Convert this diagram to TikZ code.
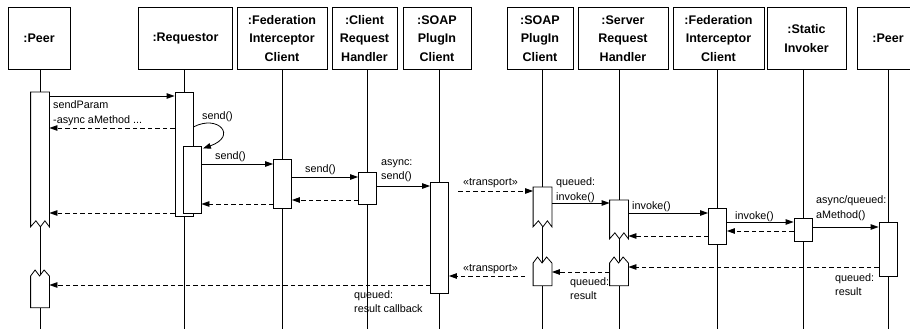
\documentclass[tikz,border=0pt]{standalone}
\usepackage{fontspec}
\setmainfont{Liberation Sans}
\usetikzlibrary{arrows.meta,calc,backgrounds}

\begin{document}
\begin{tikzpicture}[
    x=1pt, y=-1pt,
    obj/.style={draw, fill=white, line width=0.8pt, inner sep=0pt,
      minimum height=62pt, anchor=north, align=center,
      font=\fontsize{12.5}{18.5}\selectfont\bfseries},
    act/.style={draw, fill=white, line width=0.8pt, inner sep=0pt,
      minimum width=18pt, anchor=north},
    hold/.style={act, draw=none, fill=none},
    brk/.style={fill=white, line width=0.8pt},
    life/.style={line width=0.8pt},
    msg/.style={line width=0.8pt, -{Triangle[length=8pt,width=5.5pt]}},
    ret/.style={msg, dash pattern=on 4.5pt off 3pt},
    lbl/.style={inner sep=0pt, anchor=north west, align=left,
      font=\fontsize{10.8}{14.5}\selectfont,
      execute at begin node=\vphantom{(}},
  ]
  \useasboundingbox (0,0) rectangle (910,329);

  % objects
  \node[obj, minimum width=62pt] (peerA) at (39,7) {:Peer};
  \node[obj, minimum width=94pt] (req) at (185.5,7) {:Requestor};
  \node[obj, minimum width=90pt] (fedC) at (282,7) {:Federation\\Interceptor\\Client};
  \node[obj, minimum width=65pt] (crh) at (364.5,7) {:Client\\Request\\Handler};
  \node[obj, minimum width=68pt] (soapC) at (437,7) {:SOAP\\PlugIn\\Client};
  \node[obj, minimum width=66pt] (soapS) at (540,7) {:SOAP\\PlugIn\\Client};
  \node[obj, minimum width=90pt] (srh) at (623,7) {:Server\\Request\\Handler};
  \node[obj, minimum width=91pt] (fedS) at (718.5,7) {:Federation\\Interceptor\\Client};
  \node[obj, minimum width=79pt] (sinv) at (806.5,7) {:Static\\Invoker};
  \node[obj, minimum width=62pt] (peerB) at (888,7) {:Peer};

  % activations
  \node[hold, minimum height=134pt] (aPeerA1) at (40,92) {};
  \node[hold, minimum height=31pt] (aPeerA2) at (40,276) {};
  \node[act, minimum height=124pt] (aReq) at (184,92) {};
  \node[act, minimum height=67pt] (aReqN) at (192,146) {};
  \node[act, minimum height=49pt] (aFedC) at (282.5,159) {};
  \node[act, minimum height=32pt] (aCrh) at (367.5,172) {};
  \node[act, minimum height=111pt] (aSoapC) at (439.5,182) {};
  \node[hold, minimum height=39pt] (aSoapS1) at (542.5,187) {};
  \node[hold, minimum height=22pt] (aSoapS2) at (542.5,263) {};
  \node[hold, minimum height=38pt] (aSrh1) at (619,200) {};
  \node[hold, minimum height=22pt] (aSrh2) at (619,263) {};
  \node[act, minimum height=36pt] (aFedS) at (717.5,208) {};
  \node[act, minimum height=23pt] (aSinv) at (803,218) {};
  \node[act, minimum height=54pt] (aPeerB) at (888,222) {};

  % lifelines
  \begin{scope}[on background layer]
    \foreach \o/\a in {peerA/aPeerA1, req/aReq, fedC/aFedC, crh/aCrh,
        soapC/aSoapC, soapS/aSoapS1, srh/aSrh1, fedS/aFedS, sinv/aSinv, peerB/aPeerB}
      \draw[life] (\o.south -| \a) -- (\a |- 0,329);
  \end{scope}

  % broken activations
  \draw[brk] (aPeerA1.south west) |- (aPeerA1.north east) -- (aPeerA1.south east)
    -- ++(-4.5,-6) -- ++(-4.5,6) -- ++(-4.5,-6) -- cycle;
  \draw[brk] (aPeerA2.north west) -- ++(4.5,-6) -- ++(4.5,6) -- ++(4.5,-6)
    -- (aPeerA2.north east) |- (aPeerA2.south west) -- cycle;
  \draw[brk] (aSoapS1.south west) |- (aSoapS1.north east) -- (aSoapS1.south east)
    -- ++(-4.5,-6) -- ++(-4.5,6) -- ++(-4.5,-6) -- cycle;
  \draw[brk] (aSoapS2.north west) -- ++(4.5,-6) -- ++(4.5,6) -- ++(4.5,-6)
    -- (aSoapS2.north east) |- (aSoapS2.south west) -- cycle;
  \draw[brk] (aSrh1.south west) |- (aSrh1.north east) -- (aSrh1.south east)
    -- ++(-4.5,-6) -- ++(-4.5,6) -- ++(-4.5,-6) -- cycle;
  \draw[brk] (aSrh2.north west) -- ++(4.5,-6) -- ++(4.5,6) -- ++(4.5,-6)
    -- (aSrh2.north east) |- (aSrh2.south west) -- cycle;

  % messages
  \draw[msg] (aPeerA1.east |- 0,96) -- (aReq.west |- 0,96);
  \node[lbl] (lSendParam) at (53,100.7) {sendParam\\-async aMethod ...};
  \draw[ret] (aReq.west |- 0,128) -- (aPeerA1.east |- 0,128);
  \draw[msg] (aReq.east |- 0,127) .. controls (218,114) and (238,136)
    .. ($(aReqN.north east)+(1.5,2.5)$);
  \node[lbl] (lSelf) at (202,111) {send()};
  \draw[msg] (aReqN.east |- 0,164) -- (aFedC.west |- 0,164);
  \node[lbl] (lSend1) at (215,151.7) {send()};
  \draw[ret] (aFedC.west |- 0,204) -- (aReqN.east |- 0,204);
  \draw[ret] (aReq.west |- 0,213) -- (aPeerA1.east |- 0,213);
  \draw[msg] (aFedC.east |- 0,177) -- (aCrh.west |- 0,177);
  \node[lbl] (lSend2) at (305,164.5) {send()};
  \draw[ret] (aCrh.west |- 0,200) -- (aFedC.east |- 0,200);
  \draw[msg] (aCrh.east |- 0,186) -- (aSoapC.west |- 0,186);
  \node[lbl] (lAsync) at (381,159) {async:\\send()};
  \coordinate (tOut) at (458,191);
  \draw[ret] (tOut) -- (aSoapS1.west |- tOut);
  \node[lbl] (lTrans1) at (463,177.5) {«transport»};
  \draw[msg] (aSoapS1.east |- 0,203) -- (aSrh1.west |- 0,203);
  \node[lbl] (lQInv) at (556,177.5) {queued:\\invoke()};
  \draw[msg] (aSrh1.east |- 0,213) -- (aFedS.west |- 0,213);
  \node[lbl] (lInv1) at (632,201) {invoke()};
  \draw[msg] (aFedS.east |- 0,222) -- (aSinv.west |- 0,222);
  \node[lbl] (lInv2) at (735,211) {invoke()};
  \draw[ret] (aSinv.west |- 0,231) -- (aFedS.east |- 0,231);
  \draw[ret] (aFedS.west |- 0,236) -- (aSrh1.east |- 0,236);
  \draw[msg] (aSinv.east |- 0,227) -- (aPeerB.west |- 0,227);
  \node[lbl] (lAMeth) at (816,195.5) {async/queued:\\aMethod()};
  \draw[ret] (aPeerB.west |- 0,267) -- (aSrh2.east |- 0,267);
  \node[lbl] (lRes1) at (835,273) {queued:\\result};
  \draw[ret] (aSrh2.west |- 0,272) -- (aSoapS2.east |- 0,272);
  \node[lbl] (lRes2) at (570,277) {queued:\\result};
  \coordinate (tIn) at (525,276);
  \draw[ret] (tIn) -- (aSoapC.east |- tIn);
  \node[lbl] (lTrans2) at (463,263) {«transport»};
  \draw[ret] (aSoapC.west |- 0,285) -- (aPeerA2.east |- 0,285);
  \node[lbl] (lCallback) at (354,290) {queued:\\result callback};
\end{tikzpicture}
\end{document}
